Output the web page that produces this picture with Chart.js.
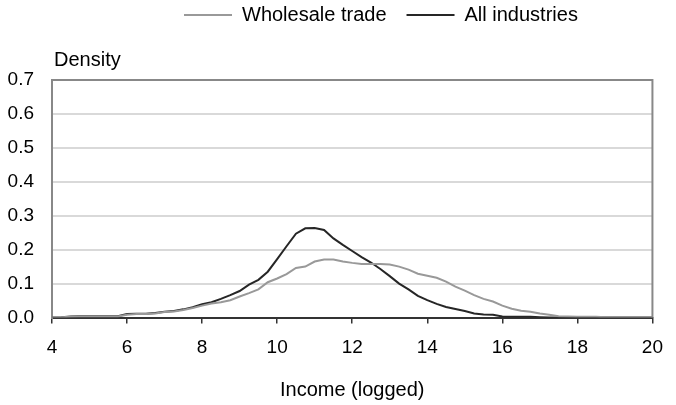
<!DOCTYPE html>
<html>
<head>
<meta charset="utf-8">
<script src="https://cdn.jsdelivr.net/npm/chart.js@4.4.1/dist/chart.umd.min.js"></script>
<style>
html,body{margin:0;padding:0;background:#fff;}
#wrap{width:676px;height:405px;position:relative;}
</style>
</head>
<body>
<div id="wrap"><canvas id="c" width="676" height="405"></canvas></div>
<script>
const incomeLogged = [4, 4.25, 4.5, 4.75, 5, 5.25, 5.5, 5.75, 6, 6.25, 6.5, 6.75, 7, 7.25, 7.5, 7.75, 8, 8.25, 8.5, 8.75, 9, 9.25, 9.5, 9.75, 10, 10.25, 10.5, 10.75, 11, 11.25, 11.5, 11.75, 12, 12.25, 12.5, 12.75, 13, 13.25, 13.5, 13.75, 14, 14.25, 14.5, 14.75, 15, 15.25, 15.5, 15.75, 16, 16.25, 16.5, 16.75, 17, 17.25, 17.5, 17.75, 18, 18.25, 18.5, 18.75, 19, 19.25, 19.5, 19.75, 20];
const wholesaleTrade = [0, 0.001, 0.002, 0.003, 0.003, 0.003, 0.003, 0.003, 0.008, 0.010, 0.010, 0.012, 0.016, 0.018, 0.022, 0.028, 0.035, 0.041, 0.045, 0.051, 0.062, 0.072, 0.083, 0.104, 0.115, 0.128, 0.146, 0.150, 0.165, 0.171, 0.171, 0.165, 0.161, 0.158, 0.158, 0.158, 0.156, 0.150, 0.141, 0.129, 0.123, 0.117, 0.106, 0.091, 0.079, 0.066, 0.055, 0.047, 0.035, 0.026, 0.020, 0.017, 0.012, 0.008, 0.004, 0.003, 0.002, 0.002, 0.002, 0.001, 0, 0, 0, 0, 0];
const allIndustries = [0, 0.001, 0.003, 0.004, 0.004, 0.004, 0.004, 0.004, 0.010, 0.011, 0.011, 0.013, 0.017, 0.019, 0.024, 0.030, 0.039, 0.045, 0.055, 0.066, 0.078, 0.097, 0.111, 0.135, 0.172, 0.210, 0.247, 0.263, 0.264, 0.258, 0.233, 0.214, 0.196, 0.178, 0.162, 0.143, 0.122, 0.100, 0.083, 0.064, 0.051, 0.040, 0.031, 0.025, 0.019, 0.012, 0.009, 0.008, 0.003, 0.002, 0.002, 0.002, 0.001, 0, 0, 0, 0, 0, 0, 0, 0, 0, 0, 0, 0];
const seriesNames = ['Wholesale trade', 'All industries'];
const xTickValues = [4, 6, 8, 10, 12, 14, 16, 18, 20];
const yTickValues = [0, 0.1, 0.2, 0.3, 0.4, 0.5, 0.6, 0.7];
const yAxisLabel = 'Density';
const xAxisLabel = 'Income (logged)';

const FONT = "'Liberation Sans', Arial, sans-serif";
Chart.defaults.font.family = FONT;
Chart.defaults.color = '#000';

const toPoints = (vals) => incomeLogged.map((x, i) => ({x: x, y: vals[i]}));

const frameAndTextPlugin = {
  id: 'frameAndText',
  afterLayout(chart) {
    const lg = chart.legend;
    if (lg) {
      const pad = lg.options.labels.padding;
      lg.left = 184 - pad;
      lg.right = 676;
      lg.top = 5 - pad;
    }
  },
  afterDraw(chart) {
    const {ctx, chartArea: a} = chart;
    ctx.save();
    ctx.strokeStyle = '#888888';
    ctx.lineWidth = 2;
    ctx.beginPath();
    ctx.moveTo(a.left, a.top);
    ctx.lineTo(a.right, a.top);
    ctx.lineTo(a.right, a.bottom);
    ctx.stroke();
    ctx.fillStyle = '#000';
    ctx.font = '20px ' + FONT;
    ctx.textAlign = 'left';
    ctx.textBaseline = 'middle';
    ctx.fillText(yAxisLabel, 54, 60);
    ctx.restore();
  }
};

new Chart(document.getElementById('c'), {
  type: 'line',
  data: {
    datasets: [
      {label: seriesNames[0], data: toPoints(wholesaleTrade), borderColor: '#999999', backgroundColor: '#999999', borderWidth: 2, pointRadius: 0, tension: 0, fill: false},
      {label: seriesNames[1], data: toPoints(allIndustries), borderColor: '#262626', backgroundColor: '#262626', borderWidth: 2, pointRadius: 0, tension: 0, fill: false}
    ]
  },
  options: {
    responsive: false,
    animation: false,
    layout: {padding: {top: 30, right: 12, left: 0, bottom: 0}},
    plugins: {
      legend: {
        display: true,
        position: 'top',
        align: 'start',
        labels: {
          usePointStyle: true,
          pointStyle: 'line',
          pointStyleWidth: 48,
          boxWidth: 48,
          boxHeight: 20,
          padding: 20,
          color: '#000',
          font: {size: 20, lineHeight: 1}
        }
      },
      tooltip: {enabled: false}
    },
    scales: {
      x: {
        type: 'linear',
        min: 4,
        max: 20,
        afterFit(s) { s.height = 87.5; },
        afterBuildTicks(s) { s.ticks = xTickValues.map(v => ({value: v})); },
        ticks: {font: {size: 19}, padding: 13, color: '#000', callback: v => String(v)},
        grid: {drawOnChartArea: false, drawTicks: true, tickLength: 6, color: '#333333', lineWidth: 1.5},
        border: {display: true, color: '#333333', width: 2},
        title: {display: true, text: xAxisLabel, font: {size: 20}, color: '#000', padding: {top: 4, bottom: 3}}
      },
      y: {
        min: 0,
        max: 0.7,
        afterFit(s) { s.width = 52; },
        afterBuildTicks(s) { s.ticks = yTickValues.map(v => ({value: v})); },
        ticks: {font: {size: 19}, padding: 18, color: '#000', callback: v => Number(v).toFixed(1)},
        grid: {drawTicks: false, color: '#d9d9d9', lineWidth: 2},
        border: {display: true, color: '#888888', width: 2}
      }
    }
  },
  plugins: [frameAndTextPlugin]
});
</script>
</body>
</html>
